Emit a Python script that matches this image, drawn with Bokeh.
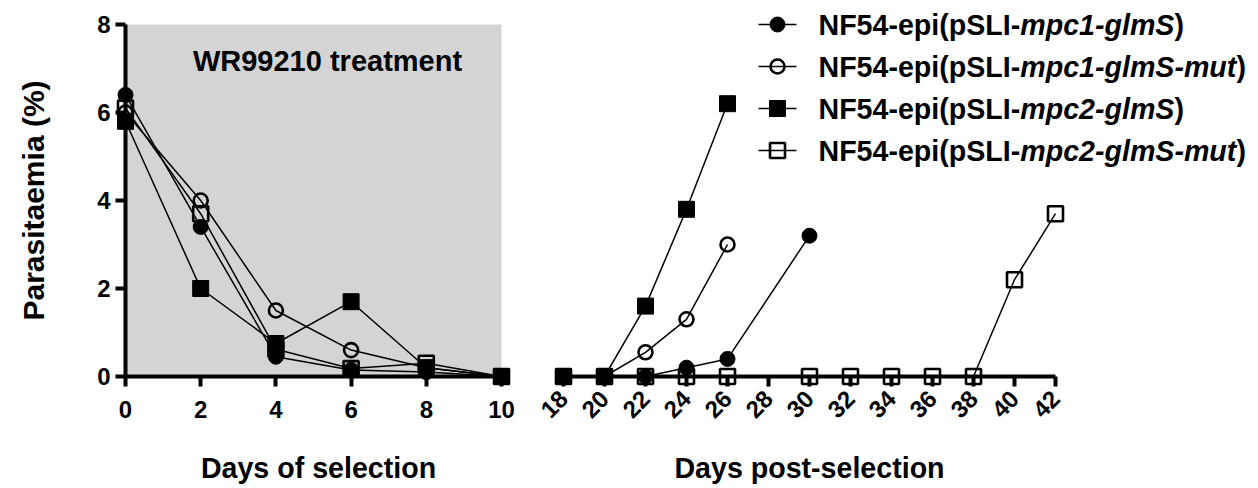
import math
from bokeh.plotting import figure
from bokeh.models import LinearAxis, FixedTicker, BoxAnnotation, Label, Range1d
from bokeh.layouts import row
from bokeh.embed import file_html
from bokeh.resources import INLINE

# ---------------- data ----------------
sel_days = [0, 2, 4, 6, 8, 10]
sel_mpc1 = [6.4, 3.4, 0.45, 0.15, 0.1, 0.0]
sel_mpc1_mut = [6.0, 4.0, 1.5, 0.6, 0.2, 0.0]
sel_mpc2 = [5.8, 2.0, 0.75, 1.7, 0.2, 0.0]
sel_mpc2_mut = [6.1, 3.7, 0.62, 0.18, 0.3, 0.0]

post_days_mpc1 = [18, 20, 22, 24, 26, 30]
post_mpc1 = [0.0, 0.0, 0.0, 0.2, 0.4, 3.2]
post_days_mpc1_mut = [18, 20, 22, 24, 26]
post_mpc1_mut = [0.0, 0.0, 0.55, 1.3, 3.0]
post_days_mpc2 = [18, 20, 22, 24, 26]
post_mpc2 = [0.0, 0.0, 1.6, 3.8, 6.2]
post_days_mpc2_mut = [18, 20, 22, 24, 26, 30, 32, 34, 36, 38, 40, 42]
post_mpc2_mut = [0.0, 0.0, 0.0, 0.0, 0.0, 0.0, 0.0, 0.0, 0.0, 0.0, 2.2, 3.7]

sel_ticks = [0, 2, 4, 6, 8, 10]
post_ticks = [18, 20, 22, 24, 26, 28, 30, 32, 34, 36, 38, 40, 42]
y_ticks = [0, 2, 4, 6, 8]

legend_prefix = "NF54-epi(pSLI-"
legend_italic = ["mpc1-glmS", "mpc1-glmS-mut", "mpc2-glmS", "mpc2-glmS-mut"]
legend_suffix = ")"
marker_kinds = ["filled_circle", "open_circle", "filled_square", "open_square"]

y_title = "Parasitaemia (%)"
x_title_left = "Days of selection"
x_title_right = "Days post-selection"
annotation_text = "WR99210 treatment"

# ---------------- layout constants (pixels in picture) ----------------
FONT = "Liberation Sans"
FIG_H = 488
Y0_PX, PX_Y = 376, 44.0
X0_PX_L, PX_X_L = 125, 37.6
L_W = 535
R_W = 715
X18_PX_R, PX_X_R = 563, 20.5

y_end = Y0_PX / PX_Y
y_start = y_end - FIG_H / PX_Y


def py2y(py):
    return (Y0_PX - py) / PX_Y


def px2xl(px):
    return (px - X0_PX_L) / PX_X_L


def px2xr(px):
    return 18 + (px - X18_PX_R) / PX_X_R


TICK_FS = "24px"
TITLE_FS = "28.6px"


def style_axis(ax, ticks, bounds):
    ax.ticker = FixedTicker(ticks=ticks)
    ax.bounds = bounds
    ax.axis_line_width = 4
    ax.axis_line_color = "black"
    ax.major_tick_line_width = 4
    ax.major_tick_line_color = "black"
    ax.major_tick_out = 10
    ax.major_tick_in = 0
    ax.minor_tick_line_color = None
    ax.major_label_text_font = FONT
    ax.major_label_text_font_style = "bold"
    ax.major_label_text_font_size = TICK_FS
    ax.major_label_text_color = "black"


def base_fig(frame_w, x_range):
    p = figure(frame_width=frame_w, frame_height=FIG_H,
               x_range=x_range, y_range=Range1d(y_start, y_end),
               x_axis_location=None, y_axis_location=None,
               toolbar_location=None, output_backend="svg",
               min_border=0, min_border_left=0, min_border_right=0,
               min_border_top=0, min_border_bottom=0)
    p.outline_line_color = None
    p.grid.visible = False
    p.background_fill_color = "white"
    p.border_fill_color = "white"
    return p


def draw_series(p, xs, ys, kind, with_line=True):
    if with_line:
        p.line(xs, ys, line_color="black", line_width=1.5)
    if kind == "filled_circle":
        p.scatter(xs, ys, marker="circle", size=15, fill_color="black", line_color="black")
    elif kind == "open_circle":
        p.scatter(xs, ys, marker="circle", size=14, fill_alpha=0, line_color="black", line_width=2.6)
    elif kind == "filled_square":
        p.scatter(xs, ys, marker="square", size=16, fill_color="black", line_color="black")
    else:
        p.scatter(xs, ys, marker="square", size=15, fill_alpha=0, line_color="black", line_width=2.6)


def title_label(x, y, text, angle=0.0, size=TITLE_FS, style="bold", align="center", x_offset=0):
    return Label(x=x, y=y, x_offset=x_offset, text=text, angle=angle, text_font=FONT,
                 text_font_style=style, text_font_size=size, text_align=align,
                 text_baseline="middle", text_color="black")


# ---------------- left panel ----------------
xl_start = px2xl(0)
left = base_fig(L_W, Range1d(xl_start, xl_start + L_W / PX_X_L))

left.add_layout(BoxAnnotation(left=sel_days[0], right=sel_days[-1], bottom=y_ticks[0], top=y_ticks[-1],
                              fill_color="#d4d4d4", fill_alpha=1, line_color=None, level="underlay"))

xax = LinearAxis(fixed_location=0)
style_axis(xax, sel_ticks, (sel_ticks[0], sel_ticks[-1]))
xax.major_label_standoff = 14
left.add_layout(xax, "below")

yax = LinearAxis(fixed_location=0)
style_axis(yax, y_ticks, (y_ticks[0], y_ticks[-1]))
yax.major_label_standoff = 5
left.add_layout(yax, "left")

for ys, kind in zip([sel_mpc1, sel_mpc1_mut, sel_mpc2, sel_mpc2_mut], marker_kinds):
    draw_series(left, sel_days, ys, kind)

left.add_layout(title_label(px2xl(327), py2y(60), annotation_text, size="29px"))
left.add_layout(title_label(px2xl(33), py2y(200), y_title, angle=math.pi / 2, size="30px"))
left.add_layout(title_label(px2xl(318), py2y(467), x_title_left))

# ---------------- right panel ----------------
xr_start = px2xr(L_W)
right = base_fig(R_W, Range1d(xr_start, xr_start + R_W / PX_X_R))

xax2 = LinearAxis(fixed_location=0)
style_axis(xax2, post_ticks, (post_ticks[0], post_ticks[-1]))
xax2.major_label_orientation = math.pi / 4
xax2.major_label_standoff = 8
right.add_layout(xax2, "below")

post_x = [post_days_mpc1, post_days_mpc1_mut, post_days_mpc2, post_days_mpc2_mut]
post_y = [post_mpc1, post_mpc1_mut, post_mpc2, post_mpc2_mut]
for xs, ys, kind in zip(post_x, post_y, marker_kinds):
    draw_series(right, xs, ys, kind)

right.add_layout(title_label((post_ticks[0] + post_ticks[-1]) / 2, py2y(467), x_title_right))

# ---------------- legend ----------------
W = {'N': .722, 'F': .611, '5': .556, '4': .556, '-': .333, 'e': .556, 'p': .611, 'i': .278,
     '(': .333, 'S': .667, 'L': .611, 'I': .278, 'm': .889, 'c': .556, '1': .556, '2': .556,
     'g': .611, 'l': .278, 'u': .611, 't': .333, ')': .333}
LEG_FS = 28.6


def tw(s):
    return sum(W.get(ch, 0.556) for ch in s) * LEG_FS


leg_rows_py = [24, 66, 108, 150]
for i, kind in enumerate(marker_kinds):
    yy = py2y(leg_rows_py[i])
    right.line([px2xr(758), px2xr(796)], [yy, yy], line_color="black", line_width=1.5)
    draw_series(right, [px2xr(777)], [yy], kind, with_line=False)
    x_text = px2xr(818)
    w1 = tw(legend_prefix)
    w2 = tw(legend_italic[i])
    for txt, style, off in [(legend_prefix, "bold", 0), (legend_italic[i], "bold italic", w1),
                            (legend_suffix, "bold", w1 + w2)]:
        right.add_layout(title_label(x_text, yy, txt, size=f"{LEG_FS}px", style=style,
                                     align="left", x_offset=off))

layout = row(left, right, spacing=0)
open("out.html", "w").write(file_html(layout, INLINE))
